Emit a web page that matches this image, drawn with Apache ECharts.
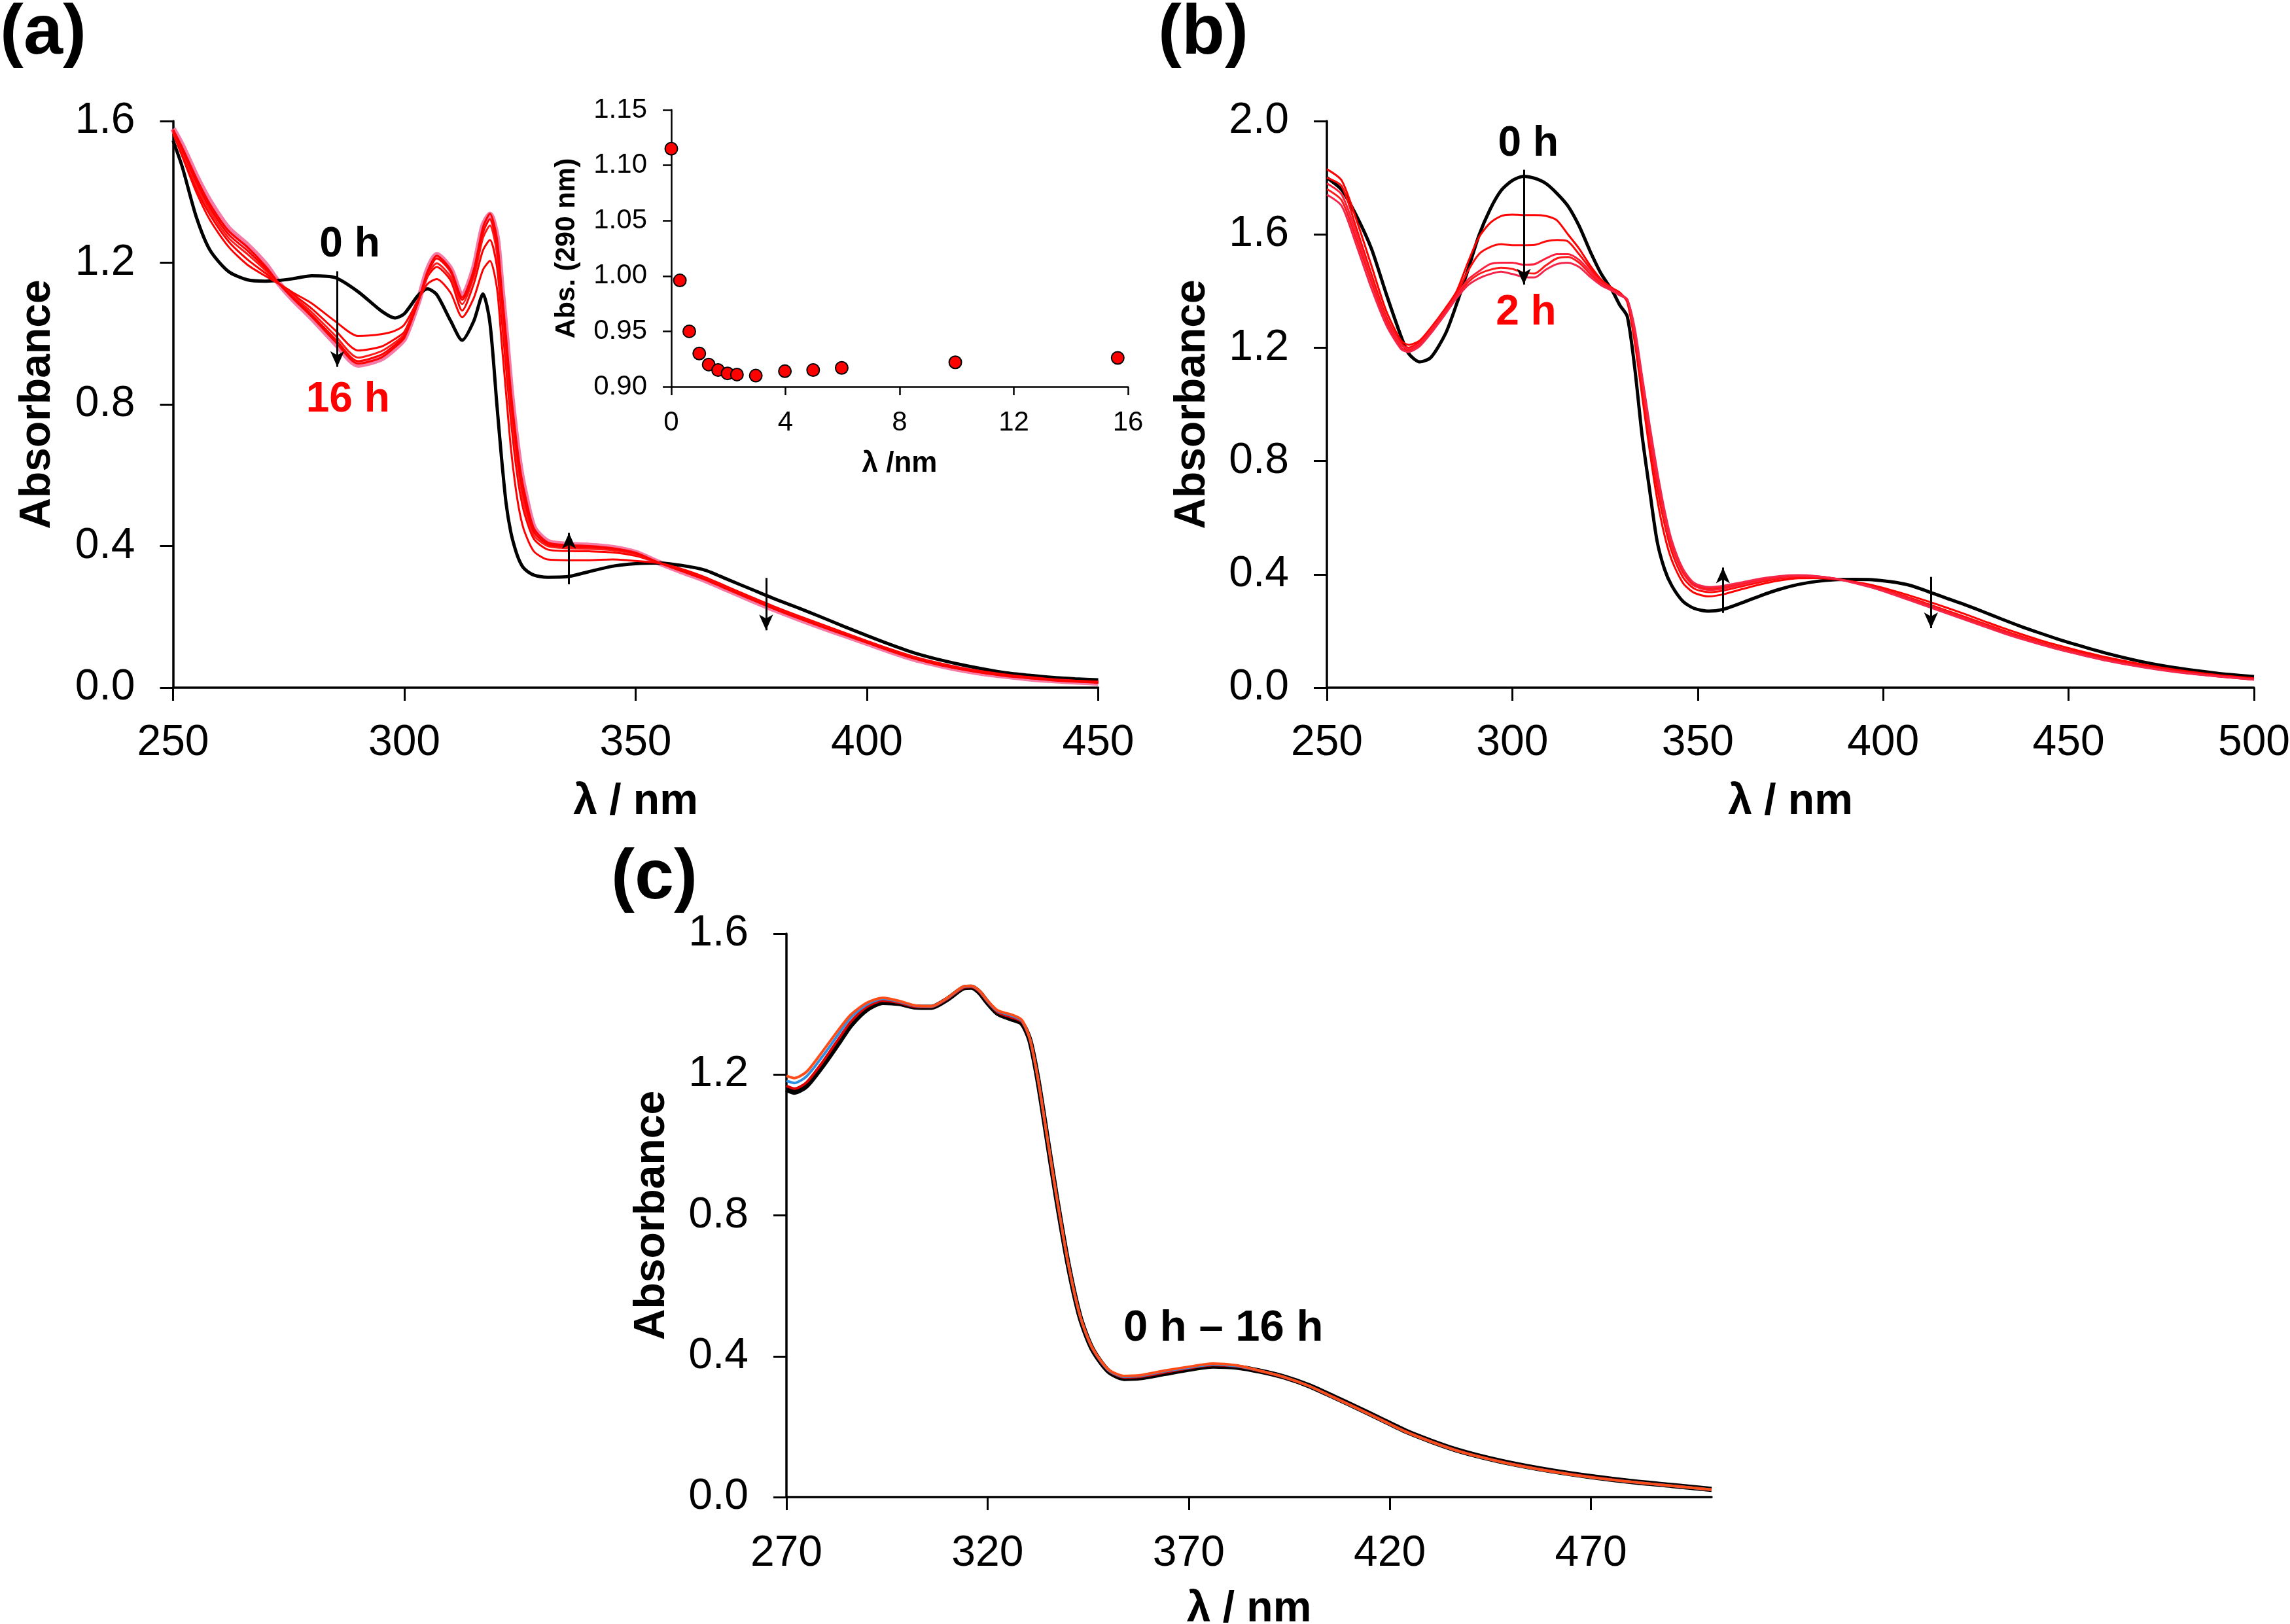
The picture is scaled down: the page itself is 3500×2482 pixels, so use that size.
<!DOCTYPE html>
<html><head><meta charset="utf-8">
<script src="https://cdn.jsdelivr.net/npm/echarts@6/dist/echarts.min.js"></script>
<style>html,body{margin:0;padding:0;background:#fff}#c{width:3500px;height:2482px}</style>
</head><body><div id="c"></div>
<script>
// ---------- Panel (a): wavelength grid and spectra ----------
const aX = [250,252,255,258,262,266,270,273,276,280,
  285,290,295,298,300,303,305,307,310,312.5,
  315,317,318.5,320,321,322,323,324,325,326,
  328,331,335,340,345,350,355,360,365,370,
  375,380,385,390,395,400,405,410,415,420,
  425,430,435,440,445,450];
const aBlack = [1.545,1.47,1.33,1.235,1.175,1.152,1.148,1.15,1.155,1.163,
  1.158,1.118,1.064,1.044,1.056,1.108,1.126,1.11,1.036,0.981,
  1.035,1.112,1.03,0.80,0.65,0.52,0.44,0.39,0.355,0.335,
  0.318,0.312,0.313,0.328,0.343,0.350,0.352,0.345,0.332,0.305,
  0.278,0.251,0.226,0.200,0.173,0.147,0.122,0.099,0.081,0.066,
  0.053,0.042,0.035,0.029,0.025,0.022];
const aR1 = [1.565,1.50,1.40,1.32,1.245,1.195,1.162,1.14,1.115,1.085,
  1.035,0.993,0.998,1.008,1.025,1.095,1.14,1.154,1.115,1.046,
  1.10,1.18,1.205,1.13,0.98,0.83,0.68,0.57,0.49,0.44,
  0.385,0.362,0.36,0.36,0.362,0.358,0.352,0.335,0.312,0.284,
  0.256,0.229,0.204,0.180,0.156,0.132,0.109,0.088,0.071,0.057,
  0.046,0.037,0.030,0.024,0.020,0.017];
const aR2 = [1.57,1.51,1.41,1.335,1.26,1.21,1.17,1.14,1.11,1.07,
  1.01,0.952,0.963,0.985,1.005,1.092,1.16,1.188,1.15,1.065,
  1.14,1.235,1.264,1.19,1.05,0.90,0.76,0.64,0.55,0.49,
  0.42,0.39,0.386,0.385,0.382,0.372,0.353,0.333,0.309,0.281,
  0.253,0.226,0.201,0.177,0.153,0.130,0.107,0.086,0.069,0.055,
  0.044,0.035,0.029,0.023,0.019,0.016];
const aR3 = [1.572,1.515,1.42,1.345,1.27,1.225,1.178,1.14,1.105,1.06,
  0.995,0.932,0.950,0.975,0.998,1.09,1.165,1.198,1.16,1.083,
  1.16,1.27,1.305,1.23,1.09,0.95,0.80,0.68,0.58,0.51,
  0.43,0.40,0.394,0.392,0.388,0.376,0.353,0.331,0.307,0.279,
  0.251,0.224,0.199,0.175,0.152,0.129,0.106,0.085,0.068,0.054,
  0.043,0.034,0.028,0.022,0.018,0.015];
const aR4 = [1.574,1.52,1.43,1.355,1.28,1.235,1.184,1.14,1.10,1.052,
  0.985,0.922,0.940,0.968,0.993,1.09,1.17,1.212,1.175,1.095,
  1.17,1.285,1.323,1.25,1.11,0.97,0.82,0.70,0.60,0.53,
  0.44,0.405,0.399,0.397,0.392,0.379,0.353,0.330,0.306,0.278,
  0.250,0.223,0.198,0.174,0.151,0.128,0.105,0.084,0.067,0.053,
  0.042,0.034,0.027,0.022,0.018,0.015];
const aR5 = [1.576,1.525,1.44,1.365,1.29,1.245,1.19,1.14,1.098,1.047,
  0.978,0.915,0.932,0.962,0.988,1.09,1.175,1.22,1.18,1.102,
  1.18,1.30,1.338,1.27,1.13,0.99,0.84,0.72,0.62,0.55,
  0.45,0.41,0.403,0.40,0.394,0.381,0.353,0.329,0.305,0.277,
  0.249,0.222,0.197,0.173,0.150,0.127,0.104,0.083,0.066,0.053,
  0.042,0.033,0.027,0.021,0.017,0.014];
const a16h = [1.578,1.53,1.445,1.372,1.296,1.25,1.195,1.14,1.096,1.044,
  0.974,0.912,0.929,0.959,0.986,1.09,1.178,1.222,1.182,1.104,
  1.182,1.302,1.336,1.272,1.135,0.995,0.845,0.725,0.625,0.555,
  0.452,0.412,0.404,0.401,0.395,0.381,0.353,0.328,0.304,0.276,
  0.248,0.221,0.196,0.172,0.149,0.126,0.103,0.082,0.066,0.052,
  0.041,0.033,0.026,0.021,0.017,0.014];

// ---------- Inset of (a): absorbance at 290 nm ----------
const insetT = [0, 0.3, 0.63, 0.98, 1.31, 1.64, 1.97, 2.3, 2.96, 3.98, 4.97, 5.97, 9.95, 15.64];
const insetAbs = [1.115, 0.996, 0.950, 0.930, 0.920, 0.915, 0.912, 0.911, 0.910, 0.914, 0.915, 0.917, 0.922, 0.926];

// ---------- Panel (b) ----------
const bX = [250,254,258,262,266,270,272,275,278,282,
  285,288,291,294,297,300,303,306,309,312,
  315,318,321,324,327,329,331,333,335,337,
  339,341,343,346,349,353,357,362,367,372,
  377,382,387,392,397,402,407,412,417,422,
  427,432,437,442,447,452,460,470,480,490,
  500];
const bBlack = [1.80,1.757,1.665,1.55,1.39,1.24,1.18,1.15,1.165,1.25,
  1.355,1.473,1.596,1.688,1.755,1.79,1.805,1.798,1.78,1.745,
  1.70,1.63,1.54,1.46,1.40,1.35,1.31,1.13,0.89,0.70,
  0.52,0.42,0.36,0.305,0.28,0.27,0.277,0.30,0.325,0.347,
  0.364,0.375,0.381,0.382,0.381,0.374,0.362,0.34,0.316,0.293,
  0.268,0.242,0.217,0.194,0.172,0.152,0.122,0.091,0.068,0.051,
  0.039];
const bR1 = [1.83,1.79,1.65,1.49,1.33,1.225,1.21,1.225,1.27,1.34,
  1.40,1.50,1.59,1.64,1.665,1.670,1.668,1.668,1.665,1.65,
  1.60,1.55,1.49,1.44,1.41,1.395,1.36,1.22,1.03,0.84,
  0.67,0.54,0.45,0.37,0.335,0.322,0.33,0.348,0.365,0.378,
  0.386,0.387,0.383,0.374,0.362,0.345,0.326,0.305,0.283,0.260,
  0.236,0.212,0.190,0.169,0.150,0.133,0.108,0.082,0.061,0.045,
  0.033];
const bR2 = [1.80,1.77,1.62,1.46,1.31,1.215,1.20,1.22,1.265,1.335,
  1.39,1.47,1.53,1.555,1.565,1.562,1.562,1.563,1.575,1.58,
  1.575,1.53,1.48,1.435,1.41,1.39,1.365,1.24,1.06,0.88,
  0.71,0.58,0.48,0.39,0.35,0.337,0.343,0.358,0.373,0.385,
  0.391,0.390,0.384,0.373,0.358,0.339,0.318,0.296,0.273,0.250,
  0.227,0.204,0.182,0.162,0.143,0.127,0.103,0.077,0.057,0.042,
  0.030];
const bR3 = [1.78,1.74,1.60,1.44,1.30,1.21,1.195,1.215,1.26,1.33,
  1.385,1.44,1.47,1.495,1.50,1.50,1.493,1.495,1.515,1.53,
  1.53,1.51,1.47,1.43,1.405,1.39,1.37,1.25,1.08,0.90,
  0.74,0.61,0.50,0.405,0.36,0.345,0.35,0.364,0.378,0.389,
  0.394,0.392,0.385,0.372,0.356,0.336,0.314,0.291,0.268,0.245,
  0.222,0.199,0.177,0.158,0.139,0.123,0.099,0.074,0.055,0.041,
  0.029];
const bR4 = [1.76,1.72,1.58,1.43,1.29,1.20,1.19,1.21,1.255,1.325,
  1.38,1.43,1.46,1.475,1.482,1.478,1.465,1.462,1.49,1.515,
  1.52,1.50,1.46,1.425,1.40,1.385,1.37,1.26,1.09,0.92,
  0.76,0.62,0.51,0.41,0.365,0.35,0.355,0.369,0.382,0.392,
  0.396,0.393,0.385,0.371,0.354,0.334,0.311,0.288,0.265,0.242,
  0.219,0.196,0.175,0.156,0.137,0.121,0.097,0.073,0.054,0.040,
  0.028];
const bR5 = [1.74,1.70,1.56,1.41,1.28,1.195,1.185,1.205,1.25,1.32,
  1.375,1.42,1.445,1.46,1.468,1.460,1.450,1.448,1.475,1.495,
  1.50,1.485,1.45,1.42,1.40,1.385,1.37,1.27,1.10,0.93,
  0.77,0.63,0.52,0.42,0.37,0.355,0.36,0.372,0.385,0.394,
  0.397,0.394,0.385,0.370,0.353,0.332,0.309,0.286,0.263,0.240,
  0.217,0.194,0.173,0.154,0.136,0.120,0.096,0.072,0.053,0.040,
  0.028];

// ---------- Panel (c) ----------
const cX = [270,272,275,279,283,286,290,294,298,302,
  306,310,314,316,318,320,322.5,326,328.5,330.5,
  332.5,335,337,340,343,346,350,354,358,364,
  370,376,382,388,394,400,406,412,418,424,
  430,436,442,450,460,470,480,490,500];
const cBlack = [1.158,1.150,1.168,1.225,1.290,1.340,1.385,1.405,1.402,1.392,
  1.391,1.414,1.446,1.448,1.433,1.404,1.374,1.358,1.346,1.298,
  1.186,1.005,0.860,0.663,0.511,0.421,0.358,0.337,0.339,0.351,
  0.363,0.372,0.369,0.357,0.340,0.316,0.285,0.253,0.220,0.187,
  0.160,0.136,0.117,0.096,0.075,0.058,0.044,0.033,0.022];
const cRed = [1.168,1.160,1.178,1.236,1.302,1.350,1.392,1.410,1.404,1.393,
  1.392,1.415,1.447,1.449,1.435,1.406,1.377,1.362,1.350,1.300,
  1.188,1.007,0.862,0.665,0.513,0.423,0.360,0.340,0.342,0.354,
  0.366,0.375,0.371,0.357,0.339,0.315,0.284,0.252,0.219,0.186,
  0.159,0.135,0.116,0.095,0.074,0.057,0.043,0.032,0.021];
const cBlue = [1.182,1.176,1.195,1.252,1.316,1.362,1.399,1.415,1.407,1.395,
  1.393,1.417,1.449,1.451,1.437,1.408,1.380,1.367,1.353,1.302,
  1.189,1.009,0.864,0.666,0.514,0.424,0.361,0.342,0.344,0.357,
  0.368,0.377,0.372,0.358,0.340,0.315,0.283,0.251,0.218,0.185,
  0.158,0.134,0.115,0.094,0.073,0.056,0.043,0.032,0.021];
const cOrange = [1.196,1.190,1.208,1.266,1.328,1.370,1.404,1.418,1.409,1.396,
  1.394,1.418,1.450,1.452,1.438,1.410,1.382,1.370,1.355,1.303,
  1.190,1.010,0.865,0.667,0.515,0.425,0.363,0.344,0.346,0.359,
  0.370,0.379,0.374,0.358,0.340,0.315,0.283,0.251,0.218,0.185,
  0.158,0.134,0.115,0.094,0.073,0.056,0.043,0.032,0.021];

// ---------- Tick labels ----------
const aXTicks = [250,300,350,400,450];
const aYTicks = [0,0.4,0.8,1.2,1.6];
const insXTicks = [0,4,8,12,16];
const insYTicks = [0.90,0.95,1.00,1.05,1.10,1.15];
const bXTicks = [250,300,350,400,450,500];
const bYTicks = [0,0.4,0.8,1.2,1.6,2.0];
const cXTicks = [270,320,370,420,470];
const cYTicks = [0,0.4,0.8,1.2,1.6];

// ---------- Annotations (data coordinates) ----------
const annA = {
  arrows: [[285.5,1.176,0.906],[335.6,0.292,0.437],[378.2,0.310,0.162]],
  texts: [{x:288.2,y:1.25,t:'0 h',c:'#000'},{x:287.8,y:0.813,t:'16 h',c:'#ff0000'}]
};
const annB = {
  arrows: [[303.1,1.828,1.423],[356.8,0.264,0.424],[412.9,0.391,0.210]],
  texts: [{x:304.3,y:1.919,t:'0 h',c:'#000'},{x:303.7,y:1.323,t:'2 h',c:'#ff0000'}]
};
const annC = {
  arrows: [],
  texts: [{x:378.6,y:0.478,t:'0 h \u2013 16 h',c:'#000',fs:67}]
};

const FF = '"Liberation Sans", Arial, Helvetica, sans-serif';

function axis(kind, gi, min, max, ticks, o) {
  const ax = {
    type:'value', gridIndex:gi, min:min, max:max,
    name:o.name, nameLocation:'middle', nameGap:o.nameGap,
    nameTextStyle:{fontFamily:FF, fontSize:o.nameFs, fontWeight:'bold', color:'#000'},
    axisLine:{show:true, onZero:false, lineStyle:{color:'#000', width:o.lw}},
    axisTick:{show:true, inside:false, length:o.tl, customValues:ticks, lineStyle:{color:'#000', width:o.tw}},
    axisLabel:{show:true, customValues:ticks, margin:o.margin, fontFamily:FF, fontSize:o.fs, color:'#000',
      formatter: o.fmt || (v => String(v))},
    splitLine:{show:false}
  };
  if (kind === 'y') ax.nameRotate = 90;
  return ax;
}

function pairs(xs, ys) { return xs.map((x, i) => [x, ys[i]]); }

function line(xi, xs, ys, color, width, z, extra) {
  return Object.assign({
    type:'line', xAxisIndex:xi, yAxisIndex:xi, data:pairs(xs, ys),
    showSymbol:false, symbol:'none', smooth:0.25, clip:true,
    lineStyle:{color:color, width:width}, itemStyle:{color:color},
    z:z, silent:true, animation:false
  }, extra || {});
}

function annotations(ann) {
  return {
    markLine: {
      silent:true, animation:false, symbol:['none','arrow'], symbolSize:[16,24],
      label:{show:false}, lineStyle:{color:'#000', width:3, type:'solid'},
      itemStyle:{color:'#000'},
      data: ann.arrows.map(a => [{coord:[a[0], a[1]]}, {coord:[a[0], a[2]]}])
    },
    markPoint: {
      silent:true, animation:false, symbol:'circle', symbolSize:1,
      itemStyle:{color:'rgba(0,0,0,0)'},
      data: ann.texts.map(t => ({coord:[t.x, t.y], label:{show:true, position:'inside', formatter:t.t,
        color:t.c, fontSize:t.fs || 64, fontWeight:'bold', fontFamily:FF}}))
    }
  };
}

const big = {lw:3.5, tw:3, tl:20, fs:66, margin:52, nameFs:66};
const fmt1 = v => v.toFixed(1);

const option = {
  backgroundColor:'#fff',
  animation:false,
  grid:[
    {left:264.5, top:185, width:1414, height:866, outerBoundsMode:'none', containLabel:false},
    {left:1026, top:168, width:698, height:423, outerBoundsMode:'none', containLabel:false},
    {left:2028, top:185, width:1417, height:866, outerBoundsMode:'none', containLabel:false},
    {left:1202, top:1427, width:1414, height:861, outerBoundsMode:'none', containLabel:false}
  ],
  xAxis:[
    axis('x',0,250,450,aXTicks,Object.assign({},big,{name:'\u03bb / nm', nameGap:142})),
    axis('x',1,0,16,insXTicks,{lw:2.5, tw:2.5, tl:13, fs:42, margin:34, name:'\u03bb /nm', nameFs:44, nameGap:96}),
    axis('x',2,250,500,bXTicks,Object.assign({},big,{name:'\u03bb / nm', nameGap:142})),
    axis('x',3,270,500,cXTicks,Object.assign({},big,{margin:54, name:'\u03bb / nm', nameGap:139}))
  ],
  yAxis:[
    axis('y',0,0,1.6,aYTicks,Object.assign({},big,{margin:58, name:'Absorbance', nameGap:174, fmt:fmt1})),
    axis('y',1,0.9,1.15,insYTicks,{lw:2.5, tw:2.5, tl:13, fs:42, margin:37, name:'Abs. (290 nm)', nameFs:42, nameGap:139, fmt:v=>v.toFixed(2)}),
    axis('y',2,0,2.0,bYTicks,Object.assign({},big,{margin:58, name:'Absorbance', nameGap:172, fmt:fmt1})),
    axis('y',3,0,1.6,cYTicks,Object.assign({},big,{margin:58, name:'Absorbance', nameGap:172, fmt:fmt1}))
  ],
  series:[
    // (a)
    line(0, aX, a16h, '#f57aa5', 9, 2),
    line(0, aX, aBlack, '#000000', 5, 3, annotations(annA)),
    line(0, aX, aR1, '#ff0000', 3, 4),
    line(0, aX, aR2, '#ff0000', 3, 4),
    line(0, aX, aR3, '#ff1a1a', 3, 4),
    line(0, aX, aR4, '#ff0000', 3, 4),
    line(0, aX, aR5, '#ff0000', 3, 4),
    // inset
    {type:'scatter', xAxisIndex:1, yAxisIndex:1, data:pairs(insetT, insetAbs), symbol:'circle', symbolSize:19,
      itemStyle:{color:'#ff0000', borderColor:'#000', borderWidth:2, opacity:1}, z:5, silent:true, animation:false},
    // (b)
    line(2, bX, bBlack, '#000000', 5, 3, annotations(annB)),
    line(2, bX, bR1, '#ff0000', 3, 4),
    line(2, bX, bR2, '#ff0a0a', 3, 4),
    line(2, bX, bR3, '#ff1f3d', 3, 4),
    line(2, bX, bR4, '#ff1a1a', 3, 4),
    line(2, bX, bR5, '#f5264b', 3, 4),
    // (c)
    line(3, cX, cBlack, '#000000', 8, 2, annotations(annC)),
    line(3, cX, cRed, '#e00000', 4, 3),
    line(3, cX, cBlue, '#2f8fe0', 4, 4),
    line(3, cX, cOrange, '#ff4d1a', 4, 5)
  ],
  graphic:[
    {type:'text', x:0, y:52, style:{text:'(a)', font:'bold 108px ' + FF, fill:'#000', align:'left', verticalAlign:'middle'}},
    {type:'text', x:1770, y:52, style:{text:'(b)', font:'bold 108px ' + FF, fill:'#000', align:'left', verticalAlign:'middle'}},
    {type:'text', x:934, y:1343, style:{text:'(c)', font:'bold 108px ' + FF, fill:'#000', align:'left', verticalAlign:'middle'}}
  ]
};

const chart = echarts.init(document.getElementById('c'), null, {width:3500, height:2482, renderer:'canvas'});
chart.setOption(option);
</script></body></html>
